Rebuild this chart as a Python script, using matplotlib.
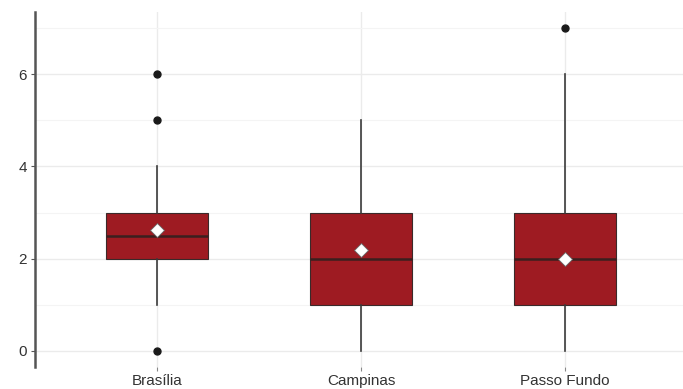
import matplotlib.pyplot as plt
import numpy as np

plt.rcParams["font.family"] = ["Liberation Sans", "DejaVu Sans"]

cities = ["Brasília", "Campinas", "Passo Fundo"]
q1 = [2, 1, 1]
median = [2.5, 2, 2]
q3 = [3, 3, 3]
whislo = [1, 0, 0]
whishi = [4, 5, 6]
means = [2.62, 2.18, 2.0]
outliers = [[0, 5, 6], [], [7]]

stats = []
for i, name in enumerate(cities):
    stats.append(dict(label=name, q1=q1[i], med=median[i], q3=q3[i],
                      whislo=whislo[i], whishi=whishi[i], mean=means[i],
                      fliers=outliers[i]))

fig = plt.figure(figsize=(6.83, 3.89), dpi=100)
ax = fig.add_axes([35 / 683, 22 / 389, 652 / 683, 355 / 389])

pos = np.arange(1, len(cities) + 1)
ax.bxp(stats, positions=pos, widths=0.5, patch_artist=True, showmeans=True,
       showcaps=False,
       boxprops=dict(facecolor="#9e1b22", edgecolor="#3a2a2a", linewidth=0.8),
       medianprops=dict(color="#3a1f1f", linewidth=1.8),
       whiskerprops=dict(color="#3a3a3a", linewidth=1.2),
       flierprops=dict(marker="o", markerfacecolor="#1a1a1a",
                       markeredgecolor="#1a1a1a", markersize=5),
       meanprops=dict(marker="D", markerfacecolor="white",
                      markeredgecolor="#666666", markersize=7.5, markeredgewidth=0.6),
       zorder=3)

ax.set_xlim(0.4, 3.6)
ax.set_ylim(-0.35, 7.35)
ax.set_yticks([0, 2, 4, 6])
ax.set_yticks([1, 3, 5, 7], minor=True)
ax.set_xticks(pos)
ax.set_xticklabels(cities)

ax.grid(which="major", color="#ebebeb", linewidth=1.0, zorder=0)
ax.grid(which="minor", axis="y", color="#f4f4f4", linewidth=0.8, zorder=0)
ax.set_axisbelow(True)

for side in ["top", "right", "bottom"]:
    ax.spines[side].set_visible(False)
ax.spines["left"].set_color("#555555")
ax.spines["left"].set_linewidth(1.8)

ax.tick_params(axis="y", which="major", length=3, color="#555555",
               labelsize=11, labelcolor="#333333", pad=3)
ax.tick_params(axis="y", which="minor", length=0)
ax.tick_params(axis="x", length=3, color="#888888", labelsize=11,
               labelcolor="#333333", pad=2)

fig.savefig("out.png", dpi=100)
